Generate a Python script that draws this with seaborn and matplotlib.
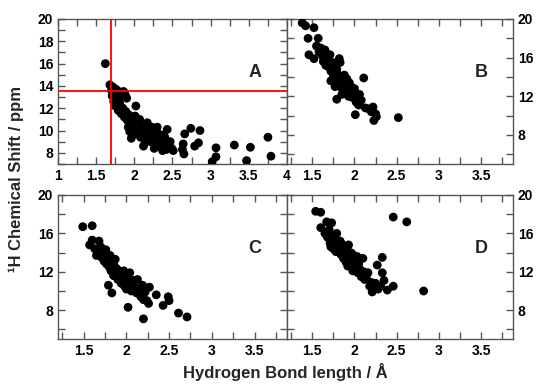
import matplotlib
matplotlib.use("Agg")
import matplotlib.pyplot as plt
import seaborn as sns
import pandas as pd
from matplotlib.ticker import MultipleLocator

# ---------------- data ----------------
a_x = [1.62, 1.68, 1.70, 1.72, 1.74, 1.76, 1.78, 1.80, 1.82, 1.86, 1.88, 1.90, 1.71, 1.73, 1.75,
       1.77, 1.79, 1.81, 1.83, 1.85, 1.87, 1.89, 1.91, 1.93, 1.95, 1.97, 1.99, 2.01, 2.02, 1.96,
       1.94, 2.03, 2.05, 2.07, 2.09, 2.11, 2.13, 2.15, 2.17, 2.19, 2.21, 2.23, 2.25, 2.27, 2.29,
       2.30, 2.32, 2.34, 2.36, 2.38, 2.40, 2.42, 2.43, 2.45, 2.47, 2.49, 2.51, 2.14, 2.08, 1.92,
       2.00, 2.12, 2.26, 2.37, 2.64, 2.63, 2.65, 2.66, 2.74, 2.86, 2.84, 2.79, 3.07, 3.07, 3.02,
       3.31, 3.52, 3.47, 3.75, 3.79]
a_y = [16.0, 14.1, 13.6, 13.9, 13.4, 13.7, 13.2, 13.5, 13.0, 13.5, 13.2, 12.9, 13.1, 12.6, 12.2,
       12.8, 11.8, 12.4, 11.5, 12.0, 11.2, 11.7, 10.9, 11.4, 10.5, 11.0, 10.2, 11.3, 12.2, 9.3,
       9.9, 10.6, 10.0, 11.0, 10.4, 9.6, 10.2, 9.3, 10.7, 9.8, 9.0, 10.3, 9.5, 8.8, 10.0,
       10.3, 9.2, 8.6, 9.6, 8.9, 9.4, 8.3, 10.1, 8.8, 9.0, 8.4, 8.2, 8.9, 9.4, 10.3,
       9.7, 8.6, 8.4, 8.2, 8.8, 8.3, 7.9, 9.7, 10.2, 10.0, 8.9, 8.6, 8.45, 7.65, 7.2,
       8.7, 8.5, 7.3, 9.4, 7.7]

b_x = [1.38, 1.42, 1.52, 1.45, 1.57, 1.46, 1.52, 1.55, 1.58, 1.60, 1.62, 1.63, 1.65, 1.66, 1.68,
       1.70, 1.71, 1.72, 1.74, 1.75, 1.76, 1.78, 1.79, 1.80, 1.81, 1.82, 1.83, 1.83, 1.84, 1.86,
       1.87, 1.88, 1.89, 1.90, 1.91, 1.92, 1.93, 1.94, 1.95, 1.96, 1.97, 1.98, 2.00, 2.02, 2.03,
       2.05, 2.06, 2.08, 2.11, 1.79, 2.01, 2.13, 2.17, 2.20, 2.22, 2.25, 2.23, 2.26, 2.52, 1.77,
       1.85, 1.72]
b_y = [19.6, 19.3, 19.1, 18.0, 18.0, 16.3, 15.9, 17.2, 16.6, 17.0, 16.2, 15.6, 16.8, 15.2, 16.0,
       15.0, 16.3, 14.6, 15.5, 14.2, 15.1, 13.8, 14.8, 14.3, 13.4, 15.9, 15.5, 13.0, 14.0, 13.6,
       12.7, 14.2, 13.2, 12.4, 13.8, 12.9, 12.0, 13.4, 12.6, 13.0, 11.9, 12.3, 12.8, 11.4, 12.0,
       11.1, 12.2, 11.6, 13.9, 11.7, 10.1, 10.8, 10.7, 10.4, 10.9, 10.2, 9.5, 9.9, 9.8, 13.0,
       12.2, 13.6]

c_x = [1.49, 1.60, 1.60, 1.68, 1.57, 1.63, 1.65, 1.67, 1.70, 1.71, 1.73, 1.74, 1.76, 1.77, 1.78,
       1.80, 1.81, 1.82, 1.84, 1.85, 1.86, 1.87, 1.88, 1.89, 1.90, 1.91, 1.93, 1.94, 1.95, 1.97,
       1.98, 1.99, 2.00, 2.02, 2.04, 2.05, 2.06, 2.08, 2.10, 2.12, 2.13, 2.15, 2.17, 2.19, 2.20,
       2.22, 2.24, 2.27, 2.35, 2.43, 2.49, 2.50, 2.61, 2.71, 2.20, 2.02, 1.83, 1.79, 2.26]
c_y = [16.7, 16.8, 15.3, 15.2, 14.8, 14.4, 13.7, 14.1, 14.6, 13.5, 13.9, 13.1, 14.3, 12.8, 13.4,
       12.5, 13.7, 12.1, 13.0, 11.6, 12.6, 13.3, 11.9, 12.3, 11.2, 12.0, 11.6, 10.8, 11.3, 12.1,
       10.5, 11.0, 10.2, 11.4, 11.9, 10.7, 10.0, 11.1, 10.4, 9.8, 11.2, 10.1, 9.4, 10.6, 9.1,
       9.9, 9.0, 10.4, 9.6, 8.5, 9.4, 9.0, 7.7, 7.3, 7.1, 8.3, 9.8, 10.6, 8.7]

d_x = [1.54, 1.60, 1.60, 1.67, 1.73, 1.65, 1.68, 1.70, 1.71, 1.72, 1.74, 1.75, 1.77, 1.78, 1.79,
       1.80, 1.82, 1.83, 1.84, 1.86, 1.87, 1.88, 1.90, 1.91, 1.92, 1.93, 1.94, 1.96, 1.97, 1.98,
       2.00, 2.01, 2.03, 2.04, 2.05, 2.07, 2.08, 2.10, 2.11, 2.12, 2.14, 2.16, 2.18, 2.20, 2.21,
       2.23, 2.25, 2.27, 2.28, 2.31, 2.33, 2.33, 2.35, 2.39, 2.46, 2.46, 2.62, 2.82, 1.85, 1.95]
d_y = [18.3, 18.2, 16.6, 17.2, 17.1, 16.0, 15.6, 16.4, 15.0, 14.6, 15.8, 14.4, 15.3, 14.1, 16.0,
       14.8, 14.3, 15.2, 13.8, 14.6, 13.4, 14.0, 13.0, 14.4, 12.6, 14.8, 13.5, 12.9, 13.9, 12.1,
       13.2, 12.5, 13.6, 11.9, 12.8, 12.2, 11.5, 13.4, 12.0, 11.2, 11.5, 11.9, 10.5, 10.9, 9.9,
       10.4, 10.8, 12.7, 10.2, 10.5, 11.9, 13.5, 11.1, 10.1, 10.5, 17.7, 17.2, 10.0, 14.9, 14.0]

panel_labels = ["A", "B", "C", "D"]
cut_x = 1.7
cut_y = 13.5

# ---------------- style ----------------
sns.set_style("ticks")
plt.rcParams["font.family"] = ["Liberation Sans", "DejaVu Sans"]
plt.rcParams["font.weight"] = "bold"

fig = plt.figure(figsize=(5.36, 3.85), dpi=100)
W, H = 536, 385


def box(l, t, r, b):
    return [l / W, 1 - b / H, (r - l) / W, (b - t) / H]


axA = fig.add_axes(box(58, 19, 287, 164))
axB = fig.add_axes(box(287, 19, 513, 164))
axC = fig.add_axes(box(58, 195, 287, 339))
axD = fig.add_axes(box(287, 195, 513, 339))

datasets = [(axA, a_x, a_y), (axB, b_x, b_y), (axC, c_x, c_y), (axD, d_x, d_y)]
for (ax, xs, ys), lab in zip(datasets, panel_labels):
    df = pd.DataFrame({"x": xs, "y": ys})
    sns.scatterplot(data=df, x="x", y="y", ax=ax, color="black", s=40,
                    edgecolor="none", linewidth=0, zorder=3, legend=False)
    ax.set_xlabel("")
    ax.set_ylabel("")
    for sp in ax.spines.values():
        sp.set_visible(True)
        sp.set_color("#555555")
        sp.set_linewidth(1.0)
    ax.tick_params(which="both", direction="in", top=True, bottom=True, left=True, right=True,
                   colors="#555555", labelcolor="black", labelsize=10, width=1)
    ax.tick_params(which="major", length=5)
    ax.tick_params(which="minor", length=5)
    ax.text(0.86, 0.63, lab, transform=ax.transAxes, fontsize=13, fontweight="bold",
            ha="center", va="center")

# Panel A
axA.set_xlim(1, 4)
axA.set_ylim(7, 20)
axA.xaxis.set_minor_locator(MultipleLocator(0.25))
axA.yaxis.set_minor_locator(MultipleLocator(1))
axA.set_xticks([1, 1.5, 2, 2.5, 3, 3.5, 4])
axA.set_xticklabels(["1", "1.5", "2", "2.5", "3", "3.5", "4"], fontweight="bold")
axA.set_yticks([8, 10, 12, 14, 16, 18, 20])
axA.set_yticklabels(["8", "10", "12", "14", "16", "18", "20"], fontweight="bold")
axA.tick_params(labelleft=True, labelright=False)
axA.axvline(cut_x, color="red", lw=1.3, zorder=4)
axA.axhline(cut_y, color="red", lw=1.3, zorder=4)

for ax in (axB, axC, axD):
    ax.set_xlim(1.2, 3.88)
    ax.set_ylim(5, 20)
    ax.set_xticks([1.5, 2, 2.5, 3, 3.5])
    ax.set_xticklabels(["1.5", "2", "2.5", "3", "3.5"], fontweight="bold")
    ax.xaxis.set_minor_locator(MultipleLocator(0.25))
    ax.set_yticks([8, 12, 16, 20])
    ax.set_yticklabels(["8", "12", "16", "20"], fontweight="bold")
    ax.yaxis.set_minor_locator(MultipleLocator(2))

axB.tick_params(labelleft=False, labelright=True)
axD.tick_params(labelleft=False, labelright=True)
axC.tick_params(labelleft=True, labelright=False)

fig.text(0.030, 0.535, "¹H Chemical Shift / ppm", rotation=90, ha="center", va="center",
         fontsize=12, fontweight="bold")
fig.text(0.532, 0.034, "Hydrogen Bond length / Å", ha="center", va="center",
         fontsize=12, fontweight="bold")

fig.savefig("out.png", dpi=100)
